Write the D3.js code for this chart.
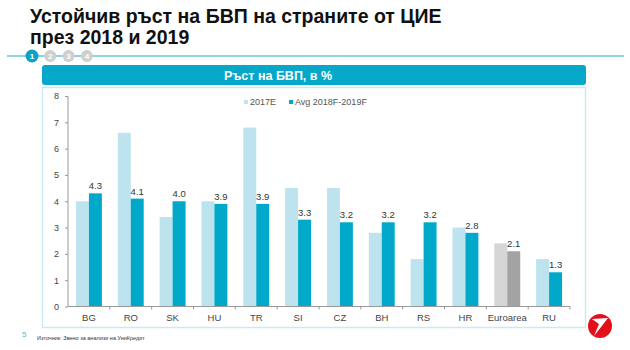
<!DOCTYPE html>
<html><head><meta charset="utf-8">
<script src="https://cdn.jsdelivr.net/npm/d3@7"></script>
<style>body{margin:0;background:#fff;}svg{display:block;font-family:Arial,"Liberation Sans",sans-serif;}</style>
</head><body>
<svg id="c" width="630" height="350"></svg>
<script>
const categories = ["BG","RO","SK","HU","TR","SI","CZ","BH","RS","HR","Euroarea","RU"];
const values2017 = [4.0,6.6,3.4,4.0,6.8,4.5,4.5,2.8,1.8,3.0,2.4,1.8];
const valuesAvg = [4.3,4.1,4.0,3.9,3.9,3.3,3.2,3.2,3.2,2.8,2.1,1.3];
const seriesNames = ["2017E","Avg 2018F-2019F"];
const yTicks = [0,1,2,3,4,5,6,7,8];
const steps = ["1","2","3","4"];

const svg = d3.select("#c");
// Title
svg.append("text").attr("x",30).attr("y",23).attr("font-size",19.5).attr("font-weight","bold").attr("fill","#111")
  .text("Устойчив ръст на БВП на страните от ЦИЕ");
svg.append("text").attr("x",30).attr("y",44).attr("font-size",19.5).attr("font-weight","bold").attr("fill","#111")
  .text("през 2018 и 2019");
// top line and steps
svg.append("line").attr("x1",7).attr("x2",624).attr("y1",56).attr("y2",56).attr("stroke","#8fd3e3").attr("stroke-width",2);
steps.forEach((s,i)=>{
  const cx = 32 + i*18.3;
  svg.append("circle").attr("cx",cx).attr("cy",56).attr("r",i===0?6.5:6).attr("fill",i===0?"#0aa3c6":"#cfcfcf");
  svg.append("text").attr("x",cx).attr("y",59).attr("text-anchor","middle").attr("font-size",8).attr("font-weight","bold").attr("fill","#fff").text(s);
});
// header bar
svg.append("rect").attr("x",42).attr("y",65).attr("width",544).attr("height",20).attr("rx",3).attr("fill","#05a8c9");
svg.append("text").attr("x",278).attr("y",79.5).attr("text-anchor","middle").attr("font-size",12.5).attr("font-weight","bold").attr("fill","#fff").text("Ръст на БВП, в %");
// frame
svg.append("rect").attr("x",42.5).attr("y",87.5).attr("width",543).attr("height",240).attr("fill","none").attr("stroke","#cbe9f2").attr("stroke-width",1.5);

const x = d3.scaleBand().domain(categories).range([68,570]).paddingInner(0.38).paddingOuter(0.19);
const y = d3.scaleLinear().domain([0,8]).range([306.5,96]);
const xs = d3.scaleBand().domain(seriesNames).range([0,x.bandwidth()]);

const g = svg.append("g");
// y axis
const ya = g.append("g").attr("transform","translate(68,0)").call(d3.axisLeft(y).tickValues(yTicks).tickSize(3).tickPadding(6));
ya.selectAll("path,line").attr("stroke","#999");
ya.selectAll("text").attr("font-size",9).attr("fill","#444").attr("font-family","Arial,'Liberation Sans',sans-serif");
ya.select(".domain").attr("d","M0,96.5V306.5");

const col = (i,c)=> c==="Euroarea" ? (i===0?"#d6d6d6":"#a3a3a3") : (i===0?"#bde3ee":"#00a9c9");
categories.forEach((c,k)=>{
  [values2017[k],valuesAvg[k]].forEach((v,i)=>{
    g.append("rect").attr("x",x(c)+xs(seriesNames[i])).attr("width",xs.bandwidth())
     .attr("y",y(v)).attr("height",y(0)-y(v)).attr("fill",col(i,c));
  });
  g.append("text").attr("x",x(c)+xs(seriesNames[1])+xs.bandwidth()/2).attr("y",y(valuesAvg[k])-4)
   .attr("text-anchor","middle").attr("font-size",9.5).attr("fill","#333").text(d3.format(".1f")(valuesAvg[k]));
});
// x axis
const xa = g.append("g").attr("transform","translate(0,306.5)").call(d3.axisBottom(x).tickSize(0).tickPadding(8));
xa.select(".domain").attr("stroke","#999").attr("d","M68,0H570");
xa.selectAll("text").attr("font-size",9.5).attr("fill","#444").attr("font-family","Arial,'Liberation Sans',sans-serif");
// between-category ticks
const step = x.step();
categories.forEach((c,k)=>{
  const tx = x(c)+x.bandwidth()/2 + step/2;
  g.append("line").attr("x1",tx).attr("x2",tx).attr("y1",306.5).attr("y2",309.5).attr("stroke","#999");
});

// legend
const leg = [[244,"2017E",0],[289,"Avg 2018F-2019F",1]];
leg.forEach(([lx,t,i])=>{
  svg.append("rect").attr("x",lx).attr("y",100).attr("width",4).attr("height",4).attr("fill",col(i,""));
  svg.append("text").attr("x",lx+6).attr("y",104.5).attr("font-size",9).attr("fill","#555").text(t);
});

// footer
svg.append("text").attr("x",22).attr("y",337).attr("font-size",8).attr("fill","#4ab8d8").text("5");
svg.append("text").attr("x",37).attr("y",340).attr("font-size",5.5).attr("fill","#333").text("Източник: Звено за анализи на УниКредит");
// logo
svg.append("circle").attr("cx",600).attr("cy",326).attr("r",12).attr("fill","#e3101a");
svg.append("path").attr("d","M592,319 L608,318 L594,336 L599,324 Z").attr("fill","#fff");
</script>
</body></html>
